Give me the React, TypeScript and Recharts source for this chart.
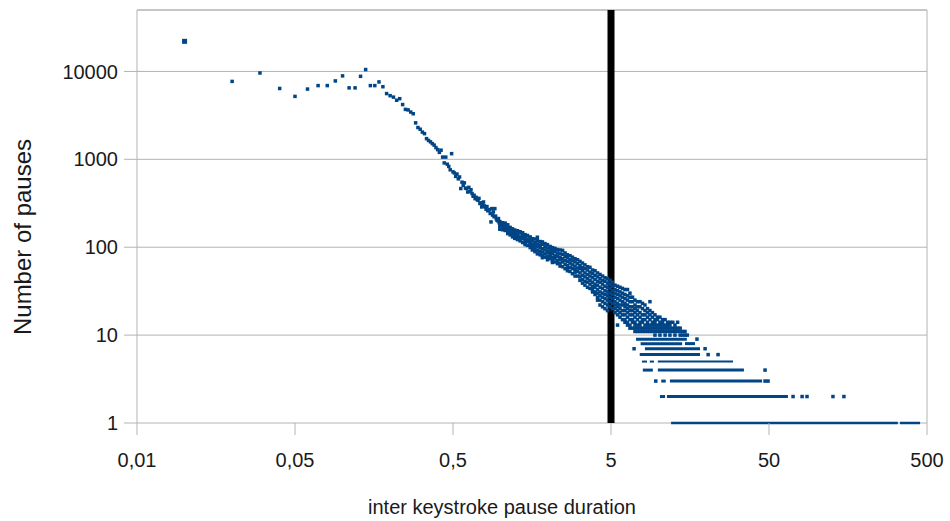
import React from 'react';
import { ComposedChart, Scatter, Line, XAxis, YAxis, CartesianGrid, ReferenceLine, Label } from 'recharts';

// ---- axes ----
const xTicks = [0.005, 0.05, 0.5, 5, 50, 500];
const xTickLabels = ['0,01', '0,05', '0,5', '5', '50', '500'];
const yTicks = [1, 10, 100, 1000, 10000];
const yTickLabels = ['1', '10', '100', '1000', '10000'];
const xTitle = 'inter keystroke pause duration';
const yTitle = 'Number of pauses';
const thresholdDuration = 5;

// ---- data: pause duration (s) vs number of pauses ----
const firstBinDuration = [0.01];
const firstBinCount = [22000];

const shortDurations = [
  0.02, 0.03, 0.04, 0.05, 0.06, 0.07, 0.08, 0.09, 0.10, 0.11, 0.12, 0.13, 0.14, 0.15, 0.16, 0.17, 0.18,
  0.19, 0.20, 0.21, 0.22, 0.23, 0.24, 0.25, 0.26, 0.27, 0.28, 0.29, 0.30, 0.31, 0.32, 0.33, 0.34, 0.35,
  0.36, 0.37, 0.38, 0.39, 0.40, 0.41, 0.42, 0.43, 0.44, 0.45, 0.46, 0.47, 0.48, 0.49, 0.50, 0.51, 0.52,
  0.53, 0.54, 0.55, 0.56, 0.57, 0.58, 0.59, 0.60, 0.61, 0.62, 0.63, 0.64, 0.65, 0.66, 0.67, 0.68, 0.69,
  0.70, 0.71, 0.72, 0.73, 0.74, 0.75, 0.76, 0.77, 0.78, 0.79, 0.80, 0.81, 0.82, 0.83, 0.84, 0.85, 0.86,
  0.87, 0.88, 0.89, 0.90, 0.91, 0.92, 0.93, 0.94, 0.95, 0.96, 0.97, 0.98,
];
const shortCounts = [
  7700, 9600, 6400, 5200, 6300, 6900, 6900, 7800, 8900, 6500, 6500, 8800, 10500, 6900, 6900, 7600, 6700,
  5600, 5300, 5100, 4700, 4900, 4200, 3700, 3650, 3450, 3300, 2600, 2300, 2200, 2040, 1960, 1720, 1640,
  1580, 1510, 1450, 1360, 1290, 1200, 1270, 1060, 910, 1060, 880, 830, 760, 1160, 720, 700, 640,
  680, 600, 630, 465, 550, 505, 540, 470, 465, 425, 480, 430, 450, 408, 380, 390, 357,
  370, 350, 342, 360, 314, 320, 287, 305, 327, 295, 287, 270, 290, 260, 263, 268, 242,
  194, 275, 232, 252, 222, 275, 226, 210, 203, 200, 212, 190,
];

const bandDurations = [
  0.99, 1.03, 1.07, 1.11, 1.15, 1.19, 1.23, 1.28, 1.33, 1.38, 1.43, 1.48, 1.54, 1.59, 1.65, 1.71, 1.78,
  1.84, 1.91, 1.98, 2.06, 2.13, 2.21, 2.29, 2.38, 2.47, 2.56, 2.65, 2.75, 2.85, 2.96, 3.07, 3.18, 3.30,
  3.42, 3.55, 3.68, 3.82, 3.96, 4.11, 4.26, 4.42, 4.58, 4.75, 4.93, 5.10, 5.30, 5.50, 5.70, 5.91, 6.13,
  6.36, 6.59, 6.84, 7.09, 7.35, 7.63, 7.91, 8.20, 8.51, 8.82, 9.15, 9.49, 9.84, 10.2, 10.6, 11.0, 11.4,
  11.8, 12.3, 12.7, 13.2, 13.7, 14.2, 14.7, 15.2,
];
const bandCounts = [
  [196, 184, 177, 165, 160], [190, 181, 170, 158], [188, 174, 166, 155], [180, 171, 158, 150, 143],
  [168, 160, 147, 138], [162, 150, 141, 131], [157, 148, 137, 130, 126], [154, 142, 133, 122],
  [150, 145, 131, 124, 118], [146, 135, 125, 113], [139, 129, 120, 112, 107], [136, 124, 116, 105],
  [131, 122, 113, 107, 99], [125, 118, 108, 100, 93], [124, 113, 104, 96, 89], [130, 119, 109, 101, 92, 84],
  [116, 106, 99, 90, 82], [115, 108, 96, 88, 80, 76], [110, 101, 93, 84, 77], [107, 98, 90, 86, 78, 72],
  [102, 95, 87, 80, 74], [99, 91, 84, 76, 70, 67], [97, 89, 80, 75, 68], [94, 86, 79, 71, 65],
  [93, 84, 76, 73, 66, 61], [92, 83, 74, 68, 60], [86, 79, 71, 64, 57], [82, 76, 69, 62, 58, 54],
  [80, 72, 66, 59, 53], [77, 70, 63, 57, 50], [74, 68, 61, 56, 52, 47], [72, 65, 58, 53, 47],
  [69, 62, 57, 51, 46, 42], [66, 59, 54, 48, 43, 39], [63, 57, 51, 46, 41, 37], [60, 55, 49, 44, 40, 35],
  [59, 52, 47, 42, 38, 34], [55, 50, 45, 40, 36, 33, 31], [54, 48, 43, 38, 35, 31, 29],
  [51, 46, 41, 37, 33, 30, 27, 25], [49, 44, 40, 35, 31, 28, 25, 22], [47, 42, 38, 34, 30, 27, 24, 21],
  [45, 41, 36, 32, 29, 26, 23, 20], [44, 39, 35, 31, 28, 25, 22, 19], [42, 38, 34, 30, 27, 24, 21],
  [40, 36, 32, 29, 26, 23, 20], [37, 33, 30, 27, 24, 22, 20, 18], [36, 32, 29, 26, 23, 21, 19, 17, 13],
  [35, 31, 28, 25, 22, 20, 18, 16], [34, 30, 27, 24, 22, 19, 17, 15], [33, 29, 26, 23, 21, 19, 17, 15, 14],
  [33, 28, 25, 22, 20, 18, 16, 14, 13], [30, 27, 24, 21, 19, 17, 15, 13, 12], [27, 24, 21, 19, 17, 15, 14, 12],
  [25, 22, 20, 18, 16, 14, 13, 12, 11], [24, 21, 19, 17, 15, 13, 12, 11], [24, 21, 18, 16, 14, 13, 12, 11],
  [23, 20, 17, 15, 14, 12, 11], [22, 19, 17, 15, 13, 12, 11], [20, 18, 16, 14, 13, 12, 11],
  [24, 19, 17, 15, 13, 12, 11], [18, 16, 14, 13, 12, 11], [17, 15, 14, 13, 12, 11, 10], [16, 15, 13, 12, 11],
  [16, 14, 13, 12, 11, 10], [15, 14, 13, 12, 11], [15, 13, 12, 11, 10], [14, 13, 12, 11],
  [14, 13, 12, 11, 10], [14, 12, 11], [13, 12, 11, 10], [14, 12, 11], [12, 11, 10], [11, 10], [11, 10], [10],
];

// low-count rows: runs of consecutive bins with the same count
const stripeCounts = [9, 8, 8, 7, 6, 5, 5, 5, 4, 4, 3, 3, 2, 2, 1, 1];
const stripeStarts = [7.2, 7.7, 14.7, 8.2, 7.6, 7.85, 8.8, 9.9, 7.95, 9.9, 10.4, 11.8, 10.2, 11.3, 12.0, 337];
const stripeEnds = [15.1, 14.1, 17.0, 18.3, 18.3, 8.45, 9.35, 29.6, 9.2, 34.7, 11.1, 45.2, 11.0, 65.9, 327, 452];

const isolatedDurations = [17.5, 7.0, 19.7, 20.6, 23.8, 47.2, 9.6, 47.2, 49.3, 71, 81, 87, 127, 149];
const isolatedCounts = [9, 7, 7, 6, 6, 4, 3, 3, 3, 2, 2, 2, 2, 2];

// ---- build series ----
const firstData = firstBinDuration.map((x, i) => ({ x, y: firstBinCount[i] }));
const shortData = shortDurations.map((x, i) => ({ x, y: shortCounts[i] }));
const bandData = bandDurations.flatMap((x, i) => bandCounts[i].map((y) => ({ x, y })));
const isolatedData = isolatedDurations.map((x, i) => ({ x, y: isolatedCounts[i] }));
const stripes = stripeCounts.map((c, i) => ({
  c,
  data: [
    { x: stripeStarts[i], y: c },
    { x: stripeEnds[i], y: c },
  ],
}));
const thresholdData = [
  { x: thresholdDuration, y: 1 },
  { x: thresholdDuration, y: 50000 },
];

const BLUE = '#004586';
const GRID = '#b3b3b3';
const TEXT = '#1a1a1a';
const FONT = '"Liberation Sans", Arial, sans-serif';

const squareShape = (size: number) => (props: any) => {
  const { cx, cy } = props;
  if (cx == null || cy == null) return <g />;
  return <rect x={cx - size / 2} y={cy - size / 2} width={size} height={size} fill={BLUE} />;
};

const fmtX = (v: number) => {
  let best = 0;
  xTicks.forEach((t, i) => {
    if (Math.abs(Math.log10(t) - Math.log10(v)) < Math.abs(Math.log10(xTicks[best]) - Math.log10(v))) best = i;
  });
  return xTickLabels[best];
};
const fmtY = (v: number) => {
  const i = yTicks.indexOf(v);
  return i >= 0 ? yTickLabels[i] : String(v);
};

export default function App() {
  return (
    <div style={{ position: 'absolute', left: 0, top: 0, width: 950, height: 521, background: '#fff' }}>
      <ComposedChart width={950} height={521} margin={{ top: 10, right: 23, bottom: 0, left: 0 }}>
        <CartesianGrid horizontal vertical={false} stroke={GRID} strokeWidth={1} />
        <XAxis
          dataKey="x"
          type="number"
          scale="log"
          domain={[0.005, 500]}
          ticks={xTicks}
          interval={0}
          tickFormatter={fmtX}
          height={98}
          tickSize={12}
          tickMargin={18}
          axisLine={false}
          tickLine={{ stroke: GRID }}
          tick={{ fill: TEXT, fontSize: 20, fontFamily: FONT }}
        >
          <Label
            content={() => (
              <text x={502} y={514} textAnchor="middle" fontSize={20} fontFamily={FONT} fill={TEXT}>
                {xTitle}
              </text>
            )}
          />
        </XAxis>
        <YAxis
          dataKey="y"
          type="number"
          scale="log"
          domain={[1, 50000]}
          ticks={yTicks}
          interval={0}
          tickFormatter={fmtY}
          width={137}
          tickSize={13}
          tickMargin={6}
          axisLine={{ stroke: GRID }}
          tickLine={{ stroke: GRID }}
          tick={{ fill: TEXT, fontSize: 20, fontFamily: FONT }}
        >
          <Label
            content={() => (
              <text
                x={31}
                y={237}
                transform="rotate(-90, 31, 237)"
                textAnchor="middle"
                fontSize={24}
                fontFamily={FONT}
                fill={TEXT}
              >
                {yTitle}
              </text>
            )}
          />
        </YAxis>
        <ReferenceLine y={50000} stroke={GRID} strokeWidth={1} />
        <ReferenceLine x={500} stroke={GRID} strokeWidth={1} />
        {stripes.map((s, i) => (
          <Line
            key={'stripe' + i}
            data={s.data}
            dataKey="y"
            stroke={BLUE}
            strokeWidth={s.c === 1 ? 2.5 : s.c === 5 ? 2 : 3}
            dot={false}
            activeDot={false}
            isAnimationActive={false}
            legendType="none"
          />
        ))}
        <Scatter data={shortData} dataKey="y" shape={squareShape(3.5)} isAnimationActive={false} legendType="none" />
        <Scatter data={bandData} dataKey="y" shape={squareShape(3.5)} isAnimationActive={false} legendType="none" />
        <Scatter data={isolatedData} dataKey="y" shape={squareShape(3.5)} isAnimationActive={false} legendType="none" />
        <Scatter data={firstData} dataKey="y" shape={squareShape(5)} isAnimationActive={false} legendType="none" />
        <Line
          data={thresholdData}
          dataKey="y"
          stroke="#000"
          strokeWidth={7}
          dot={false}
          activeDot={false}
          isAnimationActive={false}
          legendType="none"
        />
      </ComposedChart>
    </div>
  );
}
